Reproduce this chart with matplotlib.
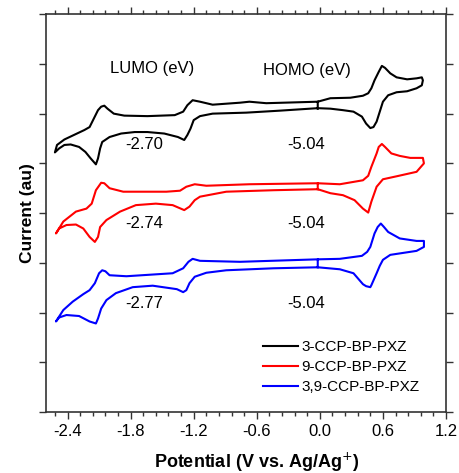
import matplotlib
matplotlib.use("Agg")
import matplotlib.pyplot as plt
from matplotlib.ticker import MultipleLocator, NullFormatter

plt.rcParams["font.family"] = ["Liberation Sans", "DejaVu Sans"]

# CV traces (potential in V, current in arbitrary offset units)
pot_3ccp = [-0.02, -0.02, 0.10, 0.29, 0.41, 0.46, 0.49, 0.52, 0.56, 0.59, 0.62, 0.67,
            0.73, 0.83, 0.92, 0.97, 0.98, 0.97, 0.92, 0.83, 0.73, 0.65, 0.60, 0.57,
            0.54, 0.51, 0.48, 0.44, 0.40, 0.32, 0.22, 0.10, -0.02, -0.38, -0.70,
            -1.02, -1.14, -1.20, -1.23, -1.26, -1.29, -1.35, -1.48, -1.64, -1.76,
            -1.89, -2.00, -2.07, -2.09, -2.11, -2.13, -2.18, -2.23, -2.29, -2.37,
            -2.43, -2.48, -2.52,
            -2.50, -2.43, -2.34, -2.24, -2.19, -2.15, -2.11, -2.08, -2.05, -2.02,
            -1.96, -1.86, -1.64, -1.38, -1.30, -1.26, -1.21, -1.14, -1.02, -0.76,
            -0.67, -0.51, -0.02]
cur_3ccp = [6.10, 6.24, 6.31, 6.32, 6.36, 6.41, 6.51, 6.67, 6.84, 6.96, 6.92, 6.81,
            6.73, 6.69, 6.71, 6.73, 6.67, 6.57, 6.51, 6.45, 6.43, 6.37, 6.24, 6.04,
            5.84, 5.73, 5.71, 5.80, 5.94, 6.04, 6.07, 6.10, 6.11, 6.06, 6.02,
            6.00, 5.95, 5.87, 5.70, 5.57, 5.47, 5.53, 5.60, 5.63, 5.63,
            5.60, 5.53, 5.43, 5.30, 5.10, 4.98, 5.10, 5.23, 5.33, 5.38,
            5.37, 5.30, 5.22,
            5.37, 5.48, 5.57, 5.67, 5.73, 5.90, 6.07, 6.14, 6.16, 6.10,
            6.00, 5.96, 5.95, 5.97, 6.04, 6.17, 6.27, 6.24, 6.18, 6.22,
            6.24, 6.21, 6.24]

pot_9ccp = [-0.02, -0.02, 0.19, 0.41, 0.46, 0.49, 0.54, 0.56, 0.59, 0.62, 0.68, 0.76,
            0.86, 0.98, 0.99, 0.92, 0.73, 0.60, 0.56, 0.54, 0.49, 0.46, 0.41, 0.33,
            0.22, 0.10, -0.02, -0.44, -0.89, -1.14, -1.19, -1.24, -1.29, -1.40,
            -1.56, -1.75, -1.90, -2.03, -2.09, -2.11, -2.14, -2.19, -2.25, -2.32,
            -2.41, -2.48, -2.51,
            -2.44, -2.32, -2.22, -2.17, -2.13, -2.08, -2.05, -2.00, -1.87, -1.46,
            -1.33, -1.27, -1.19, -1.08, -0.67, -0.02]
cur_9ccp = [4.48, 4.60, 4.58, 4.66, 4.75, 4.93, 5.20, 5.33, 5.39, 5.33, 5.20, 5.15,
            5.11, 5.11, 5.00, 4.83, 4.74, 4.68, 4.58, 4.53, 4.23, 4.01, 4.09, 4.26,
            4.36, 4.40, 4.48, 4.46, 4.43, 4.33, 4.26, 4.13, 4.06, 4.16,
            4.19, 4.16, 4.03, 3.86, 3.72, 3.52, 3.42, 3.52, 3.69, 3.77,
            3.76, 3.69, 3.59,
            3.83, 4.03, 4.09, 4.19, 4.46, 4.61, 4.60, 4.50, 4.43, 4.43,
            4.45, 4.53, 4.58, 4.55, 4.58, 4.60]

pot_39ccp = [-0.02, -0.02, 0.19, 0.40, 0.45, 0.48, 0.52, 0.55, 0.58, 0.61, 0.65, 0.76,
             0.92, 0.99, 0.99, 0.92, 0.67, 0.60, 0.57, 0.54, 0.49, 0.48, 0.44, 0.41,
             0.32, 0.19, -0.02, -0.44, -0.89, -1.08, -1.19, -1.24, -1.27, -1.30,
             -1.36, -1.59, -1.78, -1.94, -2.03, -2.08, -2.11, -2.13, -2.19, -2.29,
             -2.41, -2.48, -2.51,
             -2.44, -2.35, -2.25, -2.19, -2.14, -2.10, -2.07, -2.04, -2.00, -1.84,
             -1.40, -1.30, -1.25, -1.21, -1.14, -0.76, -0.02]
cur_39ccp = [2.91, 3.07, 3.08, 3.14, 3.22, 3.32, 3.59, 3.72, 3.79, 3.72, 3.62, 3.49,
             3.44, 3.44, 3.32, 3.24, 3.16, 3.06, 2.94, 2.79, 2.55, 2.51, 2.53, 2.57,
             2.79, 2.87, 2.91, 2.89, 2.85, 2.80, 2.72, 2.59, 2.45, 2.41,
             2.47, 2.54, 2.51, 2.39, 2.25, 2.08, 1.88, 1.78, 1.82, 1.93,
             1.95, 1.90, 1.82,
             2.05, 2.22, 2.37, 2.45, 2.59, 2.79, 2.85, 2.83, 2.75, 2.73,
             2.79, 2.89, 3.02, 3.08, 3.04, 3.02, 3.07]

labels = ["3-CCP-BP-PXZ", "9-CCP-BP-PXZ", "3,9-CCP-BP-PXZ"]
colors = ["black", "red", "blue"]
lumo = ["-2.70", "-2.74", "-2.77"]
homo = ["-5.04", "-5.04", "-5.04"]
label_y = [5.37, 3.8, 2.18]

fig = plt.figure(figsize=(4.59, 4.73), dpi=100)
ax = fig.add_axes([0.1013, 0.129, 0.8704, 0.841])

series = [(pot_3ccp, cur_3ccp), (pot_9ccp, cur_9ccp), (pot_39ccp, cur_39ccp)]
for (xv, yv), lab, c in zip(series, labels, colors):
    ax.plot(xv, yv, color=c, lw=1.5, label=lab)

for ly, lu, ho in zip(label_y, lumo, homo):
    ax.text(-1.67, ly, lu, ha="center", va="center", fontsize=12)
    ax.text(-0.13, ly, ho, ha="center", va="center", fontsize=12)

ax.text(-1.6, 6.91, "LUMO (eV)", ha="center", va="center", fontsize=12)
ax.text(-0.12, 6.87, "HOMO (eV)", ha="center", va="center", fontsize=12)

ax.set_xlim(-2.6, 1.2)
ax.set_ylim(0, 8)
ax.xaxis.set_minor_locator(MultipleLocator(0.12))
ax.yaxis.set_major_locator(MultipleLocator(1))
ax.yaxis.set_major_formatter(NullFormatter())
ax.set_xticks([-2.4, -1.8, -1.2, -0.6, 0.0, 0.6, 1.2])
ax.set_xticklabels(["-2.4", "-1.8", "-1.2", "-0.6", "0.0", "0.6", "1.2"])
ax.tick_params(which="both", direction="out", top=True, right=True, labelsize=12,
               color="#333333")
ax.tick_params(which="major", length=5, width=1)
ax.tick_params(which="minor", length=3, width=1)
for s in ax.spines.values():
    s.set_linewidth(1.2)
    s.set_color("#333333")

ax.set_xlabel("Potential (V vs. Ag/Ag$^{+}$)", fontsize=13, fontweight="bold")
ax.xaxis.set_label_coords(0.527, -0.097)
ax.set_ylabel("Current (au)", fontsize=12.5, fontweight="bold")
ax.yaxis.set_label_coords(-0.029, 0.5)

ax.legend(loc="upper left", bbox_to_anchor=(0.542, 0.18), frameon=False, fontsize=11,
          handlelength=2.3, handletextpad=0.2, labelspacing=0.38, borderpad=0,
          borderaxespad=0)

fig.savefig("out.png", dpi=100)
